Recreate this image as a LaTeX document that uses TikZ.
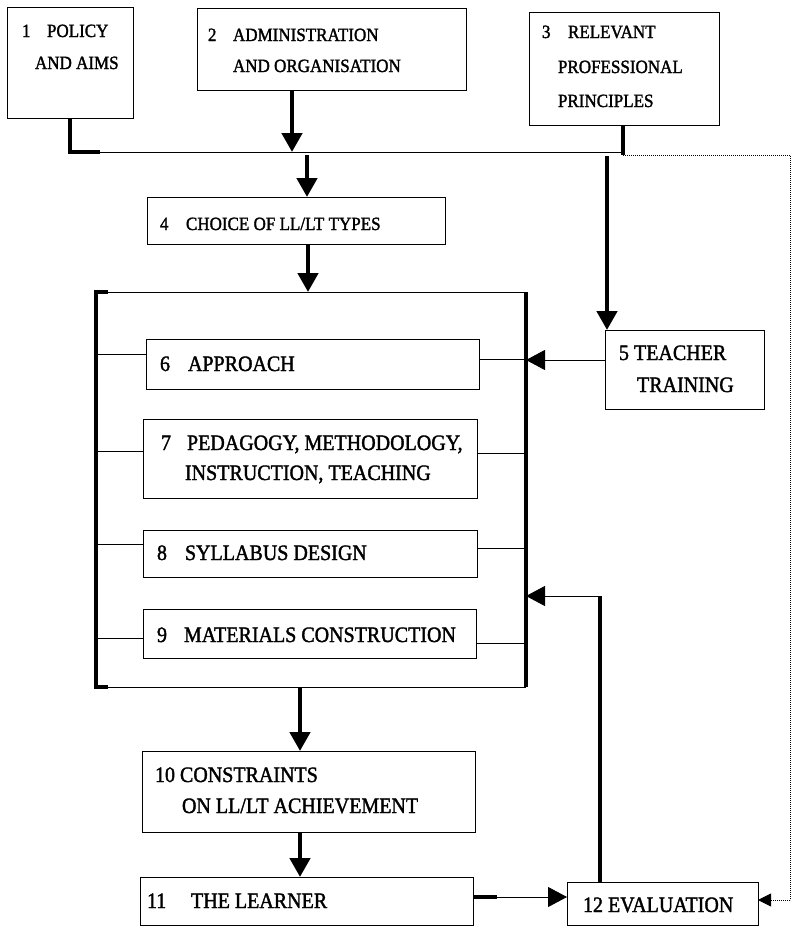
\documentclass[tikz,border=0pt]{standalone}
\usepackage{fontspec}
\setmainfont{Liberation Serif}
\newfontfamily\boxfont[FakeStretch=0.91,FakeBold=1.6]{Liberation Serif}
\usetikzlibrary{arrows.meta}
\tikzset{
  box/.style={draw, line width=1pt, inner sep=0pt, outer sep=0pt, anchor=north west},
  lbl/.style={anchor=base west, inner sep=0pt, outer sep=0pt, font=\boxfont\fontsize{22}{22}\selectfont},
  lbls/.style={anchor=base west, inner sep=0pt, outer sep=0pt, font=\boxfont\fontsize{18.7}{18.7}\selectfont},
  heavy/.style={line width=4.5pt},
  fine/.style={line width=0.9pt},
  dotline/.style={line width=0.9pt, dash pattern=on 0.9pt off 1.1pt},
  bigtip/.style={-{Triangle[width=20pt,length=19pt]}},
  smalltip/.style={-{Triangle[width=13pt,length=13pt]}}
}
\begin{document}
\begin{tikzpicture}[x=1pt,y=-1pt]
\useasboundingbox (0,0) rectangle (792,927);
% boxes
\node[box, minimum width=126pt, minimum height=111pt] (b1) at (7,7) {};
\node[box, minimum width=269pt, minimum height=82pt] (b2) at (197,8) {};
\node[box, minimum width=190pt, minimum height=113pt] (b3) at (529,12) {};
\node[box, minimum width=298pt, minimum height=47pt] (b4) at (147,197) {};
\node[box, minimum width=159pt, minimum height=79pt] (b5) at (605,330) {};
\node[box, minimum width=333pt, minimum height=50pt] (b6) at (146,339) {};
\node[box, minimum width=334pt, minimum height=79pt] (b7) at (143,419) {};
\node[box, minimum width=334pt, minimum height=47pt] (b8) at (143,530) {};
\node[box, minimum width=333pt, minimum height=49pt] (b9) at (143,609) {};
\node[box, minimum width=333pt, minimum height=81pt] (b10) at (142,751) {};
\node[box, minimum width=333pt, minimum height=48pt] (b11) at (140,877) {};
\node[box, minimum width=191pt, minimum height=43pt] (b12) at (567,882) {};
\node[inner sep=0pt, outer sep=0pt, anchor=north west, minimum width=430pt, minimum height=395pt] (brk) at (96,292) {};
% labels
\node[lbls] (t1n) at (22,37) {1};
\node[lbls] (t1a) at (47,37) {POLICY};
\node[lbls] (t1b) at (35,69) {AND AIMS};
\node[lbls] (t2n) at (208,41) {2};
\node[lbls] (t2a) at (233,41) {ADMINISTRATION};
\node[lbls] (t2b) at (233,72) {AND ORGANISATION};
\node[lbls] (t3n) at (542,38) {3};
\node[lbls] (t3a) at (568,38) {RELEVANT};
\node[lbls] (t3b) at (558,73) {PROFESSIONAL};
\node[lbls] (t3c) at (558,107) {PRINCIPLES};
\node[lbls] (t4n) at (160,230) {4};
\node[lbls] (t4a) at (186,230) {CHOICE OF LL/LT TYPES};
\node[lbl] (t5a) at (619,360) {5 TEACHER};
\node[lbl] (t5b) at (637,392) {TRAINING};
\node[lbl] (t6n) at (160,371) {6};
\node[lbl] (t6a) at (188,371) {APPROACH};
\node[lbl] (t7n) at (161,450) {7};
\node[lbl] (t7a) at (187,450) {PEDAGOGY, METHODOLOGY,};
\node[lbl] (t7b) at (185,480) {INSTRUCTION, TEACHING};
\node[lbl] (t8n) at (157,560) {8};
\node[lbl] (t8a) at (185,560) {SYLLABUS DESIGN};
\node[lbl] (t9n) at (157,642) {9};
\node[lbl] (t9a) at (184,642) {MATERIALS CONSTRUCTION};
\node[lbl] (t10a) at (155,782) {10 CONSTRAINTS};
\node[lbl] (t10b) at (182,813) {ON LL/LT ACHIEVEMENT};
\node[lbl] (t11n) at (147,908) {11};
\node[lbl] (t11a) at (191,908) {THE LEARNER};
\node[lbl] (t12a) at (583,912) {12 EVALUATION};
% junction coordinates
\coordinate (j1) at (70,152);
\coordinate (j1b) at (100,152);
\coordinate (j2) at (623,152);
\coordinate (a2) at (292,152);
\coordinate (a4) at (307,155);
\coordinate (a5) at (607,156);
\coordinate (x308) at (308,0);
\coordinate (x300) at (300,0);
\coordinate (dR1) at (790,155);
\coordinate (dR2) at (790,900);
\coordinate (y5) at (0,360);
\coordinate (e12) at (600,596);
\coordinate (y11) at (0,897);
\coordinate (h11) at (497,897);
% bracket
\draw[fine] (brk.north west) -- (brk.north east);
\draw[fine] (brk.south west) -- (brk.south east);
\draw[heavy, line join=miter] ([xshift=12pt]brk.north west) -- (brk.north west) -- (brk.south west) -- ([xshift=12pt]brk.south west);
\draw[heavy] (brk.north east) -- (brk.south east);
% top connectors
\draw[heavy, line join=miter] (b1.south -| j1) -- (j1) -- (j1b);
\draw[fine] (j1b) -- (j2);
\draw[heavy] (b3.south -| j2) -- ([yshift=-3pt]j2);
\draw[heavy, bigtip] (b2.south -| a2) -- (a2);
\draw[heavy, bigtip] (a4) -- (b4.north -| a4);
\draw[heavy, bigtip] (a5) -- (b5.north -| a5);
\draw[heavy, bigtip] (b4.south -| x308) -- (brk.north -| x308);
\draw[dotline] ([yshift=-3pt]j2) -- (dR1) -- (dR2);
\draw[dotline, smalltip] (dR2) -- (b12.east |- dR2);
% teacher training to bracket
\draw[fine, bigtip] (b5.west |- y5) -- (brk.east |- y5);
% inner boxes to bracket sides
\coordinate (l6) at (0,354); \coordinate (r6) at (0,359);
\coordinate (l7) at (0,451); \coordinate (r7) at (0,453);
\coordinate (l8) at (0,544); \coordinate (r8) at (0,548);
\coordinate (l9) at (0,638); \coordinate (r9) at (0,643);
\draw[fine] (brk.west |- l6) -- (b6.west |- l6);
\draw[fine] (b6.east |- r6) -- (brk.east |- r6);
\draw[fine] (brk.west |- l7) -- (b7.west |- l7);
\draw[fine] (b7.east |- r7) -- (brk.east |- r7);
\draw[fine] (brk.west |- l8) -- (b8.west |- l8);
\draw[fine] (b8.east |- r8) -- (brk.east |- r8);
\draw[fine] (brk.west |- l9) -- (b9.west |- l9);
\draw[fine] (b9.east |- r9) -- (brk.east |- r9);
% lower connectors
\draw[heavy, bigtip] (brk.south -| x300) -- (b10.north -| x300);
\draw[heavy, bigtip] (b10.south -| x300) -- (b11.north -| x300);
\draw[fine, bigtip] (b11.east |- y11) -- (b12.west |- y11);
\draw[heavy] (b11.east |- y11) -- (h11);
\draw[heavy] (b12.north -| e12) -- (e12);
\draw[fine, bigtip] (e12) -- (brk.east |- e12);
\end{tikzpicture}
\end{document}
